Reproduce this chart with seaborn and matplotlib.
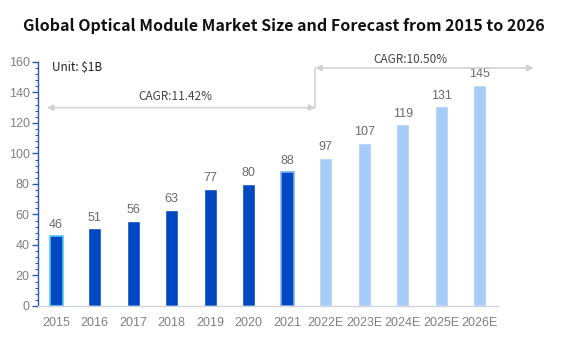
import matplotlib
matplotlib.use("Agg")
import matplotlib.pyplot as plt
from matplotlib.ticker import MultipleLocator
import seaborn as sns
import pandas as pd

years = ["2015", "2016", "2017", "2018", "2019", "2020", "2021",
         "2022E", "2023E", "2024E", "2025E", "2026E"]
market_size = [46, 51, 56, 63, 77, 80, 88, 97, 107, 119, 131, 145]
actual_color = "#0047C2"
forecast_color = "#A8CCF8"
bar_colors = [actual_color] * 7 + [forecast_color] * 5
title = "Global Optical Module Market Size and Forecast from 2015 to 2026"
unit_label = "Unit: $1B"
cagr_hist = "CAGR:11.42%"
cagr_fcst = "CAGR:10.50%"

df = pd.DataFrame({"year": years, "size": market_size})

sns.set_theme(style="white")
plt.rcParams["font.family"] = ["Liberation Sans", "DejaVu Sans"]
label_font = ["Noto Sans CJK SC", "DejaVu Sans"]

fig = plt.figure(figsize=(5.67, 3.4), dpi=100)
ax = fig.add_axes([0.067, 0.1, 0.811, 0.718])

sns.barplot(data=df, x="year", y="size", hue="year", palette=bar_colors,
            legend=False, width=0.34, ax=ax, saturation=1)

# highlighted outlines on the first and last actual bars
for i, ec in [(0, "#55C8F0"), (6, "#7FB0F0")]:
    ax.patches[i].set_edgecolor(ec)
    ax.patches[i].set_linewidth(1.2)

for i, v in enumerate(market_size):
    ax.text(i, v + 3, str(v), ha="center", va="bottom", fontsize=9, color="#6a6a6a")

ax.set_xlim(-0.47, 11.47)
ax.set_ylim(0, 160)
ax.yaxis.set_major_locator(MultipleLocator(20))
ax.yaxis.set_minor_locator(MultipleLocator(4))
ax.set_xlabel("")
ax.set_ylabel("")

for s in ["top", "right"]:
    ax.spines[s].set_visible(False)
ax.spines["left"].set_color("#2a5caa")
ax.spines["left"].set_linewidth(1.0)
ax.spines["bottom"].set_color("#cfd6e0")
ax.spines["bottom"].set_linewidth(1.0)

ax.tick_params(axis="y", which="major", left=True, length=4, width=1, color="#2a5caa",
               labelsize=9, labelcolor="#808080", pad=2)
ax.tick_params(axis="y", which="minor", left=True, length=2.5, width=0.8, color="#2a5caa")
ax.tick_params(axis="x", bottom=False, labelsize=9, labelcolor="#808080", pad=2)

ax.text(0.03, 1.005, unit_label, transform=ax.transAxes, fontsize=8.5, color="#222222",
        ha="left", va="top", family=label_font)

arrow_color = "#d2d2d2"
aprops = dict(arrowstyle="<|-|>", color=arrow_color, lw=1.2, mutation_scale=9,
              shrinkA=0, shrinkB=0)
ax.annotate("", xy=(-0.24, 130), xytext=(6.73, 130), arrowprops=aprops,
            annotation_clip=False)
ax.plot([6.73, 6.73], [130, 156], color=arrow_color, lw=1.2, clip_on=False)
ax.annotate("", xy=(6.73, 156), xytext=(12.4, 156), arrowprops=aprops,
            annotation_clip=False)
ax.text(3.1, 133, cagr_hist, ha="center", va="bottom", fontsize=8.5, color="#444444",
        family=label_font)
ax.text(9.2, 157, cagr_fcst, ha="center", va="bottom", fontsize=8.5, color="#444444",
        clip_on=False, family=label_font)

fig.text(0.5, 0.925, title, ha="center", va="center", fontsize=11.5,
         fontweight="bold", color="#111111", family=label_font)

fig.savefig("out.png", dpi=100)
